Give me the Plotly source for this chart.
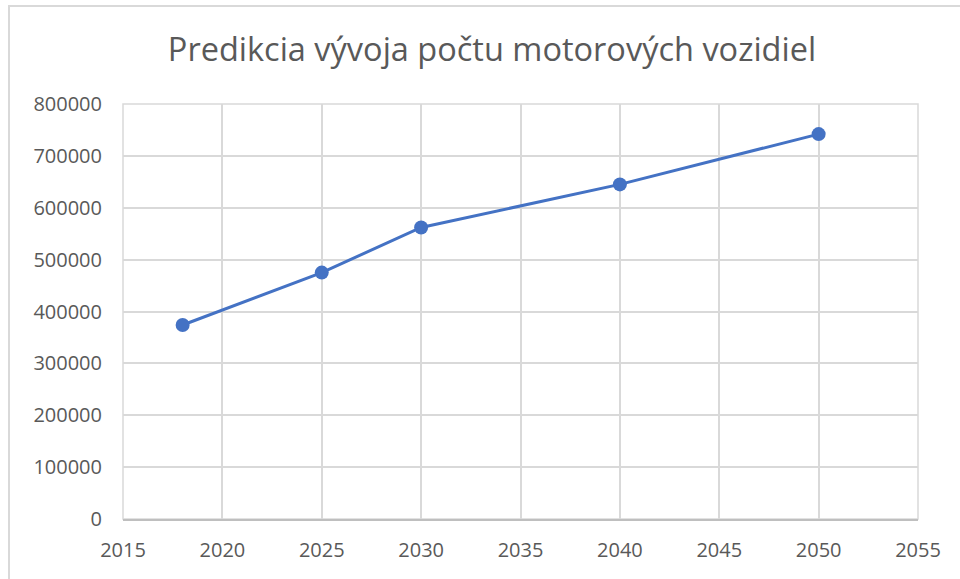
import plotly.graph_objects as go

years = [2018, 2025, 2030, 2040, 2050]
vehicles = [374000, 475000, 562000, 645000, 742000]
x_ticks = [2015, 2020, 2025, 2030, 2035, 2040, 2045, 2050, 2055]
y_ticks = [0, 100000, 200000, 300000, 400000, 500000, 600000, 700000, 800000]
title_text = "Predikcia vývoja počtu motorových vozidiel"

W, H = 960, 579
L, R, T, B = 123, 42, 104, 60
pw, ph = W - L - R, H - T - B

fig = go.Figure()
fig.add_trace(go.Scatter(
    x=years, y=vehicles, mode="lines+markers",
    line=dict(color="#4472C4", width=3),
    marker=dict(color="#4472C4", size=14),
    showlegend=False, cliponaxis=False,
))

font_fam = "Open Sans, Liberation Sans, sans-serif"
fig.update_layout(
    width=W, height=H,
    margin=dict(l=L, r=R, t=T, b=B),
    paper_bgcolor="white", plot_bgcolor="white",
    title=dict(text=title_text, x=492 / W, xanchor="center",
               y=1 - 50 / H, yanchor="middle",
               font=dict(family=font_fam, size=32.5, color="#595959")),
    xaxis=dict(range=[2015, 2055], tickvals=x_ticks, ticktext=[str(v) for v in x_ticks],
               showgrid=True, gridcolor="#D9D9D9", gridwidth=1.5,
               showline=True, linecolor="#BFBFBF", linewidth=1.5, mirror=False,
               zeroline=False, ticks="", ticklabelstandoff=12,
               tickfont=dict(family=font_fam, size=20, color="#595959")),
    yaxis=dict(range=[0, 800000], tickvals=y_ticks, ticktext=[str(v) for v in y_ticks],
               showgrid=True, gridcolor="#D9D9D9", gridwidth=1.5,
               showline=False, zeroline=False, ticks="", ticklabelstandoff=20,
               tickfont=dict(family=font_fam, size=20, color="#595959")),
)

# plot area frame (left/right/top edges)
fig.add_shape(type="rect", xref="paper", yref="paper", x0=0, x1=1, y0=0, y1=1,
              line=dict(color="#D9D9D9", width=1.5), layer="below")
# outer chart border (left and top edges visible)
fig.add_shape(type="rect", xref="paper", yref="paper",
              x0=(9 - L) / pw, x1=(W + 20 - L) / pw,
              y0=-(B + 20) / ph, y1=(H - 6 - B) / ph,
              line=dict(color="#D9D9D9", width=2))

fig.write_html("out.html", config={"displayModeBar": False},
               post_script="document.body.style.margin='0';document.body.style.overflow='hidden';")
